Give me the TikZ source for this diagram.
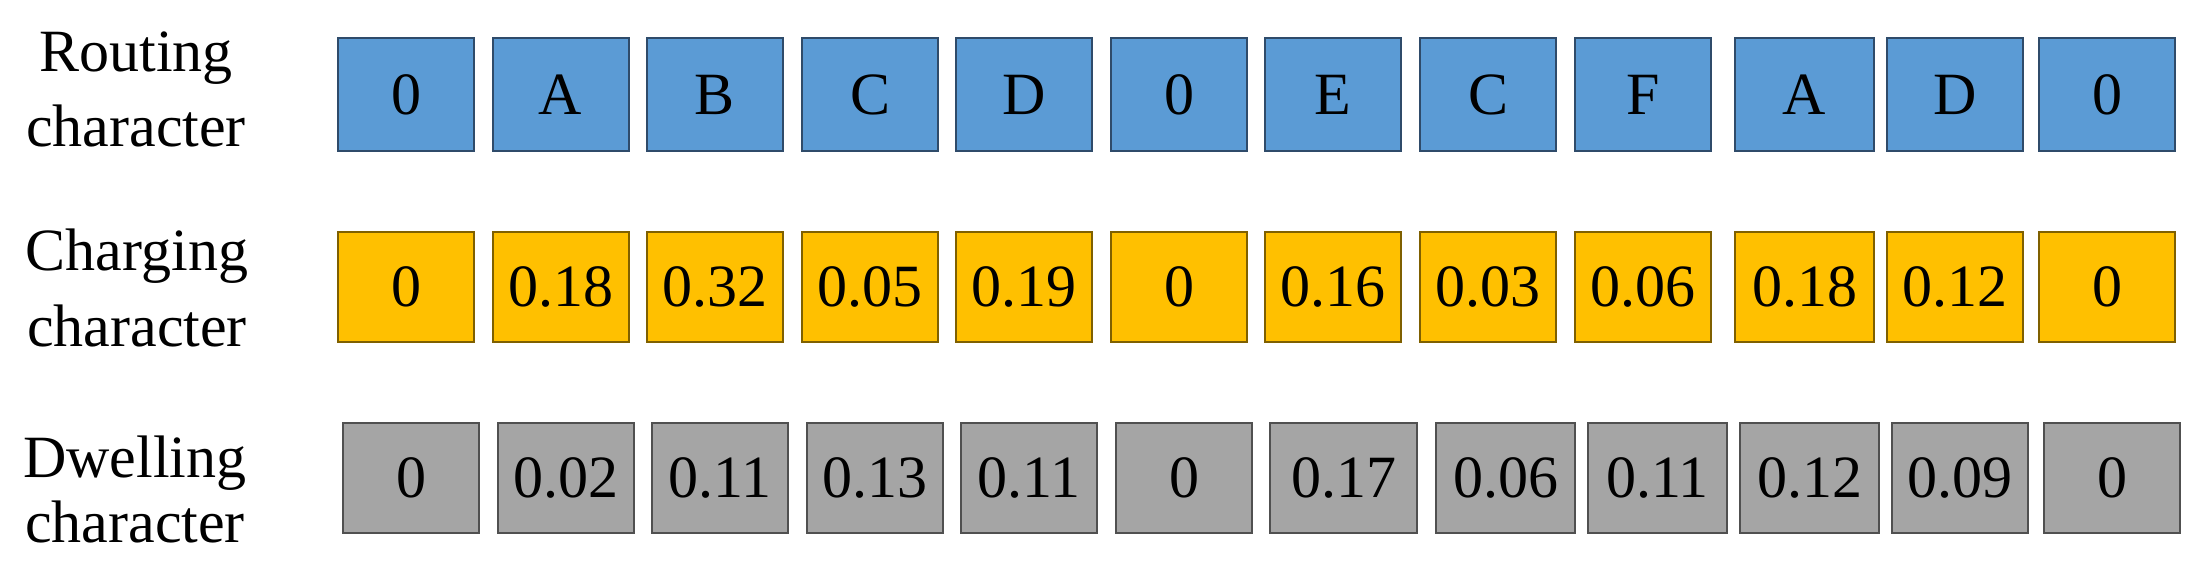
\documentclass[tikz,border=0pt]{standalone}
\usepackage{fontspec}
\setmainfont{Liberation Serif}
\definecolor{bluefill}{HTML}{5B9BD5}
\definecolor{blueline}{HTML}{2F4B6A}
\definecolor{yelfill}{HTML}{FFC000}
\definecolor{yelline}{HTML}{7F6000}
\definecolor{grayfill}{HTML}{A5A5A5}
\definecolor{grayline}{HTML}{505050}
\begin{document}
\begin{tikzpicture}[x=1pt,y=-1pt,
  cell/.style={draw, line width=2pt, inner sep=0pt, anchor=west,
    font=\fontsize{60}{72}\selectfont},
  routecell/.style={cell, fill=bluefill, draw=blueline, minimum height=113pt},
  chargecell/.style={cell, fill=yelfill, draw=yelline, minimum height=110pt},
  dwellcell/.style={cell, fill=grayfill, draw=grayline, minimum height=110pt},
  rowlabel/.style={align=center, inner sep=0pt}]
\useasboundingbox (0,0) rectangle (2206,570);

\node[rowlabel, font=\fontsize{60}{75}\selectfont] (lr) at (136,89) {Routing\\character};
\node[rowlabel, font=\fontsize{60}{76}\selectfont] (lc) at (137,287.5) {Charging\\character};
\node[rowlabel, font=\fontsize{60}{65}\selectfont] (ld) at (135,489) {Dwelling\\character};

\foreach \x/\w/\t [count=\i] in {336/138/0, 490.6/138/A, 645/138/B, 800/138/C, 954/138/D, 1109/138/0, 1263/138/E, 1418/138/C, 1573/138/F, 1733/141/A, 1885/138/D, 2037/138/0}
  \node[routecell, minimum width=\w*1pt-2pt] (r\i) at (\x+1,94.5) {\t};

\foreach \x/\w/\t [count=\i] in {336/138/0, 490.6/138/0.18, 645/138/0.32, 800/138/0.05, 954/138/0.19, 1109/138/0, 1263/138/0.16, 1418/138/0.03, 1573/138/0.06, 1733/141/0.18, 1885/138/0.12, 2037/138/0}
  \node[chargecell, minimum width=\w*1pt-2pt] (c\i) at (\x+1,287) {\t};

\foreach \x/\w/\t [count=\i] in {341/138/0, 496/138/0.02, 650/138/0.11, 805/138/0.13, 959/138/0.11, 1114/138/0, 1268/149/0.17, 1434/141/0.06, 1586/141/0.11, 1738/141/0.12, 1890/138/0.09, 2042/138/0}
  \node[dwellcell, minimum width=\w*1pt-2pt] (d\i) at (\x+1,478) {\t};
\end{tikzpicture}
\end{document}
